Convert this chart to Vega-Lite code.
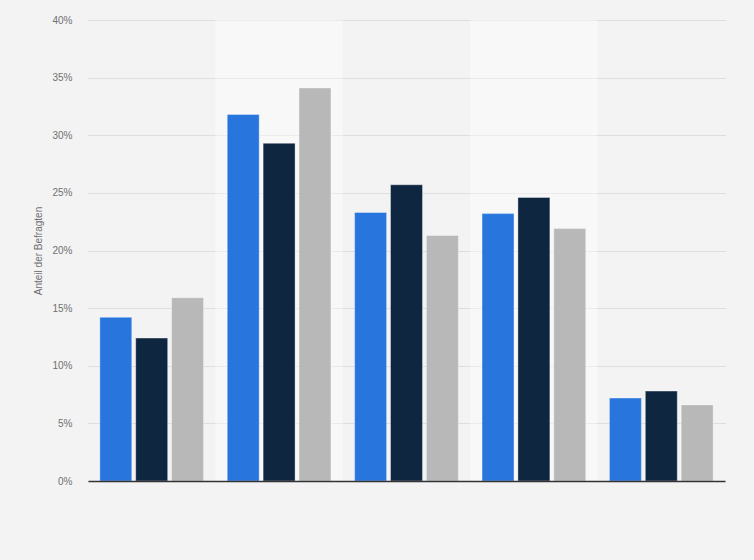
{
  "$schema": "https://vega.github.io/schema/vega-lite/v6.json",
  "width": 637,
  "height": 461,
  "autosize": "none",
  "padding": {"left": 88, "top": 20, "right": 29, "bottom": 79},
  "background": "#f3f3f3",
  "config": {
    "view": {"stroke": null},
    "font": "Liberation Sans",
    "axis": {"labelFont": "Liberation Sans", "titleFont": "Liberation Sans"}
  },
  "data": {
    "values": [
      {"gruppe": "A", "serie": "Serie 1", "anteil": 14.2},
      {"gruppe": "A", "serie": "Serie 2", "anteil": 12.4},
      {"gruppe": "A", "serie": "Serie 3", "anteil": 15.9},
      {"gruppe": "B", "serie": "Serie 1", "anteil": 31.8},
      {"gruppe": "B", "serie": "Serie 2", "anteil": 29.3},
      {"gruppe": "B", "serie": "Serie 3", "anteil": 34.1},
      {"gruppe": "C", "serie": "Serie 1", "anteil": 23.3},
      {"gruppe": "C", "serie": "Serie 2", "anteil": 25.7},
      {"gruppe": "C", "serie": "Serie 3", "anteil": 21.3},
      {"gruppe": "D", "serie": "Serie 1", "anteil": 23.2},
      {"gruppe": "D", "serie": "Serie 2", "anteil": 24.6},
      {"gruppe": "D", "serie": "Serie 3", "anteil": 21.9},
      {"gruppe": "E", "serie": "Serie 1", "anteil": 7.2},
      {"gruppe": "E", "serie": "Serie 2", "anteil": 7.8},
      {"gruppe": "E", "serie": "Serie 3", "anteil": 6.6}
    ]
  },
  "encoding": {
    "x": {
      "field": "gruppe",
      "type": "nominal",
      "scale": {"domain": ["A", "B", "C", "D", "E"], "paddingInner": 0, "paddingOuter": 0},
      "axis": {
        "title": null,
        "labels": false,
        "ticks": false,
        "domainColor": "#333333",
        "domainWidth": 1.5,
        "zindex": 1
      }
    }
  },
  "layer": [
    {
      "transform": [
        {"filter": "datum.serie == 'Serie 1' && (datum.gruppe == 'B' || datum.gruppe == 'D')"}
      ],
      "mark": {"type": "bar", "color": "#ffffff", "opacity": 0.4},
      "encoding": {
        "y": {"datum": 40, "type": "quantitative", "scale": {"domain": [0, 40]}},
        "y2": {"datum": 0}
      }
    },
    {
      "mark": {"type": "bar", "stroke": "#ffffff", "strokeOpacity": 0.35, "strokeWidth": 1},
      "encoding": {
        "xOffset": {
          "field": "serie",
          "type": "nominal",
          "scale": {"paddingInner": 0.11, "paddingOuter": 0.33}
        },
        "y": {
          "field": "anteil",
          "type": "quantitative",
          "scale": {"domain": [0, 40]},
          "axis": {
            "title": "Anteil der Befragten",
            "titleFontSize": 10,
            "titleFontWeight": "normal",
            "titleColor": "#707070",
            "titlePadding": 8,
            "values": [0, 5, 10, 15, 20, 25, 30, 35, 40],
            "labelExpr": "datum.value + '%'",
            "labelFontSize": 10,
            "labelColor": "#707070",
            "labelPadding": 16,
            "ticks": false,
            "domain": false,
            "grid": true,
            "gridColor": "#c8c8c8",
            "gridDash": [1, 1],
            "gridWidth": 1
          }
        },
        "color": {
          "field": "serie",
          "type": "nominal",
          "legend": null,
          "scale": {
            "domain": ["Serie 1", "Serie 2", "Serie 3"],
            "range": ["#2876dd", "#0f2640", "#b8b8b8"]
          }
        }
      }
    }
  ]
}
